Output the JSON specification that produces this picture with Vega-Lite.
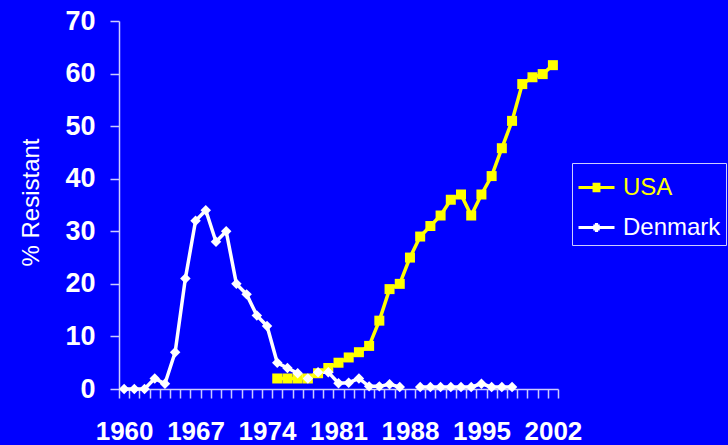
{
  "$schema": "https://vega.github.io/schema/vega-lite/v6.json",
  "width": 439,
  "height": 368,
  "autosize": "none",
  "padding": {"left": 119, "top": 21, "right": 170, "bottom": 56},
  "background": "#0000ff",
  "config": {"view": {"stroke": null}, "font": "Liberation Sans"},
  "data": {"values": [
    {"year": 1975, "country": "USA", "pct": 2},
    {"year": 1976, "country": "USA", "pct": 2},
    {"year": 1977, "country": "USA", "pct": 2},
    {"year": 1978, "country": "USA", "pct": 2},
    {"year": 1979, "country": "USA", "pct": 3},
    {"year": 1980, "country": "USA", "pct": 4},
    {"year": 1981, "country": "USA", "pct": 5},
    {"year": 1982, "country": "USA", "pct": 6},
    {"year": 1983, "country": "USA", "pct": 7},
    {"year": 1984, "country": "USA", "pct": 8.2},
    {"year": 1985, "country": "USA", "pct": 13},
    {"year": 1986, "country": "USA", "pct": 19},
    {"year": 1987, "country": "USA", "pct": 20},
    {"year": 1988, "country": "USA", "pct": 25},
    {"year": 1989, "country": "USA", "pct": 29},
    {"year": 1990, "country": "USA", "pct": 31},
    {"year": 1991, "country": "USA", "pct": 33},
    {"year": 1992, "country": "USA", "pct": 36},
    {"year": 1993, "country": "USA", "pct": 37},
    {"year": 1994, "country": "USA", "pct": 33},
    {"year": 1995, "country": "USA", "pct": 37},
    {"year": 1996, "country": "USA", "pct": 40.5},
    {"year": 1997, "country": "USA", "pct": 45.8},
    {"year": 1998, "country": "USA", "pct": 51},
    {"year": 1999, "country": "USA", "pct": 58},
    {"year": 2000, "country": "USA", "pct": 59.3},
    {"year": 2001, "country": "USA", "pct": 59.9},
    {"year": 2002, "country": "USA", "pct": 61.6},
    {"year": 1960, "country": "Denmark", "pct": 0},
    {"year": 1961, "country": "Denmark", "pct": 0},
    {"year": 1962, "country": "Denmark", "pct": 0},
    {"year": 1963, "country": "Denmark", "pct": 2},
    {"year": 1964, "country": "Denmark", "pct": 1},
    {"year": 1965, "country": "Denmark", "pct": 7},
    {"year": 1966, "country": "Denmark", "pct": 21},
    {"year": 1967, "country": "Denmark", "pct": 32},
    {"year": 1968, "country": "Denmark", "pct": 34},
    {"year": 1969, "country": "Denmark", "pct": 28},
    {"year": 1970, "country": "Denmark", "pct": 30},
    {"year": 1971, "country": "Denmark", "pct": 20},
    {"year": 1972, "country": "Denmark", "pct": 18},
    {"year": 1973, "country": "Denmark", "pct": 14},
    {"year": 1974, "country": "Denmark", "pct": 12},
    {"year": 1975, "country": "Denmark", "pct": 5},
    {"year": 1976, "country": "Denmark", "pct": 4},
    {"year": 1977, "country": "Denmark", "pct": 3},
    {"year": 1978, "country": "Denmark", "pct": 2},
    {"year": 1979, "country": "Denmark", "pct": 3.2},
    {"year": 1980, "country": "Denmark", "pct": 3.2},
    {"year": 1981, "country": "Denmark", "pct": 1.1},
    {"year": 1982, "country": "Denmark", "pct": 1.2},
    {"year": 1983, "country": "Denmark", "pct": 2},
    {"year": 1984, "country": "Denmark", "pct": 0.5},
    {"year": 1985, "country": "Denmark", "pct": 0.5},
    {"year": 1986, "country": "Denmark", "pct": 0.9},
    {"year": 1987, "country": "Denmark", "pct": 0.4},
    {"year": 1988, "country": "Denmark", "pct": null},
    {"year": 1989, "country": "Denmark", "pct": 0.4},
    {"year": 1990, "country": "Denmark", "pct": 0.4},
    {"year": 1991, "country": "Denmark", "pct": 0.4},
    {"year": 1992, "country": "Denmark", "pct": 0.4},
    {"year": 1993, "country": "Denmark", "pct": 0.4},
    {"year": 1994, "country": "Denmark", "pct": 0.4},
    {"year": 1995, "country": "Denmark", "pct": 1},
    {"year": 1996, "country": "Denmark", "pct": 0.4},
    {"year": 1997, "country": "Denmark", "pct": 0.4},
    {"year": 1998, "country": "Denmark", "pct": 0.4}
  ]},
  "encoding": {
    "y": {
      "field": "pct", "type": "quantitative",
      "scale": {"domain": [0, 70], "nice": false, "zero": true},
      "axis": {
        "values": [0, 10, 20, 30, 40, 50, 60, 70],
        "grid": false,
        "tickSize": 9, "tickWidth": 1.5, "tickColor": "#ccccff",
        "domainColor": "#ccccff", "domainWidth": 1.5,
        "labelPadding": 15, "labelFontSize": 27, "labelFontWeight": "bold", "labelColor": "#ffffff",
        "labelFont": "Liberation Sans",
        "title": "% Resistant", "titleFontSize": 24, "titleFontWeight": "normal", "titleColor": "#ffffff",
        "titleFont": "Liberation Sans",
        "titleX": -88, "titleY": 181, "titleAngle": -90, "titleAlign": "center", "titleBaseline": "middle"
      }
    },
    "color": {
      "field": "country", "type": "nominal",
      "scale": {"domain": ["USA", "Denmark"], "range": ["#ffff00", "#ffffff"]},
      "legend": {
        "orient": "none", "legendX": 453, "legendY": 142,
        "title": null,
        "strokeColor": "#ccccff",
        "padding": 5,
        "labelFontSize": 24, "labelFont": "Liberation Sans", "labelOffset": 7,
        "labelColor": {"expr": "datum.value == 'USA' ? '#ffff00' : '#ffffff'"},
        "symbolType": {"expr": "datum.value == 'USA' ? 'M-1,0H1M-0.22,-0.18H0.22M-0.22,-0.09H0.22M-0.22,0H0.22M-0.22,0.09H0.22M-0.22,0.18H0.22' : 'M-1,0H1M-0.26,0H0.26M-0.18,-0.08H0.18M-0.18,0.08H0.18M-0.09,-0.16H0.09M-0.09,0.16H0.09'"},
        "symbolSize": 1296,
        "symbolStrokeWidth": 3,
        "symbolOpacity": 1,
        "rowPadding": 8
      }
    }
  },
  "layer": [
    {
      "mark": {"type": "line", "strokeWidth": 3.5},
      "encoding": {
        "x": {
          "field": "year", "type": "quantitative",
          "scale": {"domain": [1959.5, 2002.5], "nice": false, "zero": false},
          "axis": {
            "orient": "bottom", "title": null, "grid": false, "labels": false,
            "values": [1959.5,1960.5,1961.5,1962.5,1963.5,1964.5,1965.5,1966.5,1967.5,1968.5,1969.5,1970.5,1971.5,1972.5,1973.5,1974.5,1975.5,1976.5,1977.5,1978.5,1979.5,1980.5,1981.5,1982.5,1983.5,1984.5,1985.5,1986.5,1987.5,1988.5,1989.5,1990.5,1991.5,1992.5,1993.5,1994.5,1995.5,1996.5,1997.5,1998.5,1999.5,2000.5,2001.5,2002.5],
            "tickSize": 9, "tickWidth": 1.5, "tickColor": "#ccccff",
            "domainColor": "#ccccff", "domainWidth": 1.5
          }
        }
      }
    },
    {
      "transform": [{"filter": "datum.country == 'USA'"}],
      "mark": {"type": "point", "shape": "square", "filled": true, "opacity": 1, "size": 100},
      "encoding": {
        "x": {
          "field": "year", "type": "quantitative",
          "axis": {
            "orient": "bottom", "title": null, "grid": false,
            "values": [1960, 1967, 1974, 1981, 1988, 1995, 2002],
            "format": "d",
            "ticks": false, "tickSize": 0, "domain": false,
            "labelPadding": 29, "labelFontSize": 26, "labelFontWeight": "bold", "labelColor": "#ffffff",
            "labelFont": "Liberation Sans", "labelFlush": false, "labelOverlap": false
          }
        }
      }
    },
    {
      "transform": [{"filter": "datum.country == 'Denmark'"}],
      "mark": {"type": "point", "shape": "diamond", "filled": true, "opacity": 1, "size": 110},
      "encoding": {
        "x": {"field": "year", "type": "quantitative", "axis": null}
      }
    }
  ],
  "resolve": {"axis": {"x": "independent"}}
}
